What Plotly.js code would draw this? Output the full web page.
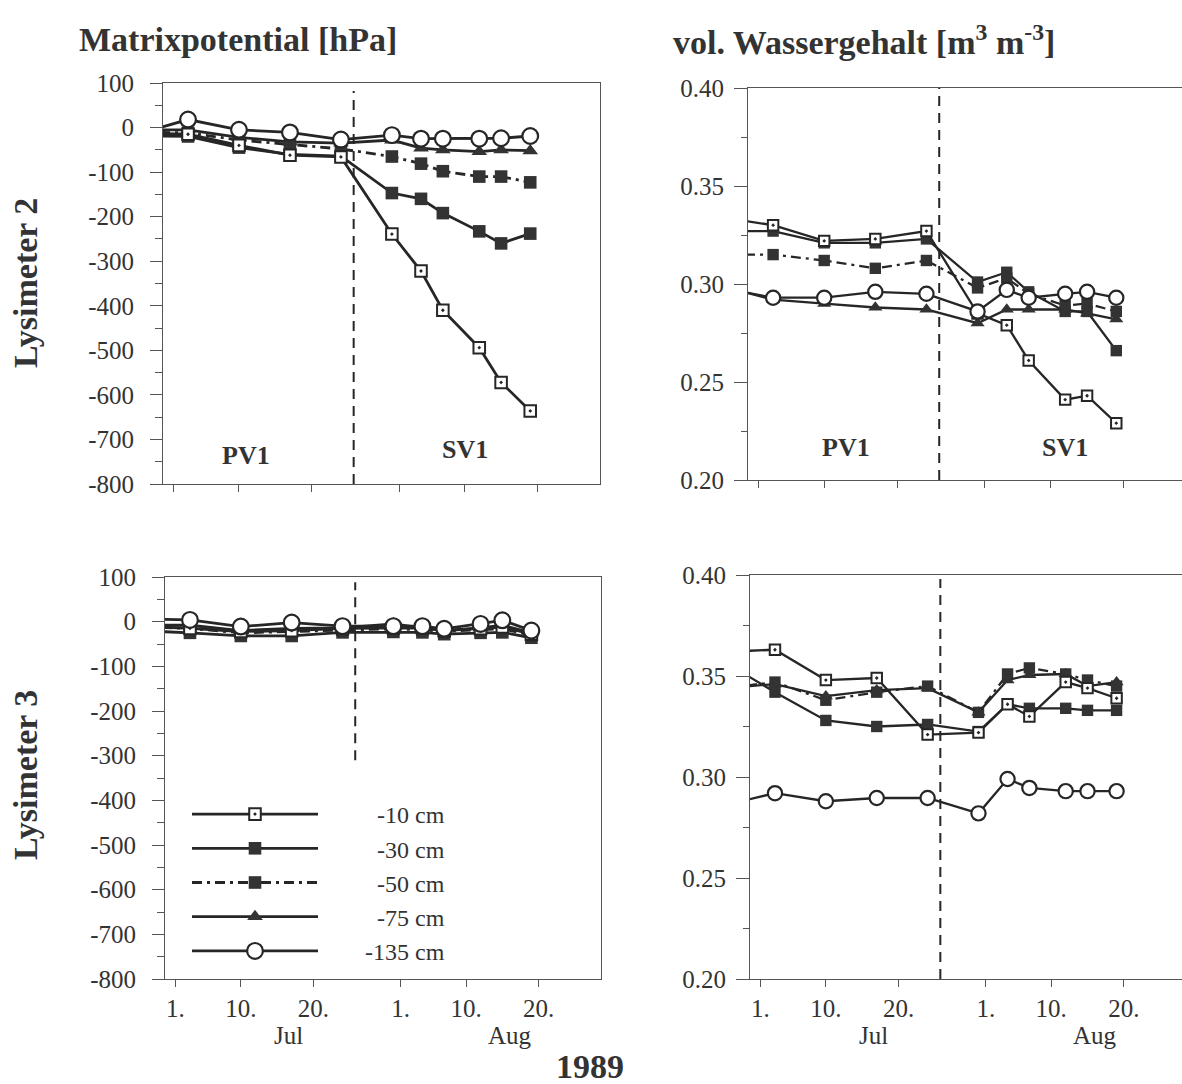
<!DOCTYPE html>
<html><head><meta charset="utf-8">
<script src="https://cdn.plot.ly/plotly-3.0.1.min.js"></script>
<style>html,body{margin:0;padding:0;background:#fff;overflow:hidden}</style>
</head><body><div id="chart" style="width:1182px;height:1084px"></div>
<script>
// ---- data ----
const dates = ['1989-06-26','1989-07-03','1989-07-10','1989-07-17','1989-07-24','1989-07-31','1989-08-04','1989-08-07','1989-08-12','1989-08-15','1989-08-19'];
const depths = ['-10 cm','-30 cm','-50 cm','-75 cm','-135 cm'];

// Lysimeter 2 – Matrixpotential [hPa]
const lys2_psi_10  = [-12, -15, -40, -62, -66, -239, -322, -410, -494, -572, -636];
const lys2_psi_30  = [-18, -20, -45, -60, -64, -147, -160, -192, -233, -260, -238];
const lys2_psi_50  = [-10, -12, -28, -38, -48, -65, -81, -98, -110, -110, -123];
const lys2_psi_75  = [-5, -5, -22, -32, -35, -28, -46, -50, -54, -50, -52];
const lys2_psi_135 = [-15, 18, -5, -11, -27, -17, -25, -25, -25, -24, -19];

// Lysimeter 2 – vol. Wassergehalt [m3 m-3]
const lys2_theta_10  = [0.334, 0.330, 0.322, 0.323, 0.327, 0.285, 0.279, 0.261, 0.241, 0.243, 0.229];
const lys2_theta_30  = [0.327, 0.327, 0.321, 0.321, 0.323, 0.301, 0.306, 0.296, 0.286, 0.286, 0.266];
const lys2_theta_50  = [0.315, 0.315, 0.312, 0.308, 0.312, 0.298, 0.303, 0.295, 0.289, 0.290, 0.286];
const lys2_theta_75  = [0.299, 0.292, 0.290, 0.288, 0.287, 0.280, 0.287, 0.287, 0.287, 0.285, 0.282];
const lys2_theta_135 = [0.298, 0.293, 0.293, 0.296, 0.295, 0.286, 0.297, 0.293, 0.295, 0.296, 0.293];

// Lysimeter 3 – Matrixpotential [hPa]
const lys3_psi_10  = [-10, -15, -22, -20, -15, -14, -14, -20, -16, -12, -28];
const lys3_psi_30  = [-20, -25, -32, -32, -24, -23, -24, -28, -25, -24, -36];
const lys3_psi_50  = [-12, -15, -25, -22, -18, -16, -18, -22, -18, -16, -30];
const lys3_psi_75  = [-8, -8, -20, -15, -14, -5, -14, -20, -14, -8, -25];
const lys3_psi_135 = [6, 4, -11, -2, -10, -10, -10, -16, -5, 3, -20];

// Lysimeter 3 – vol. Wassergehalt [m3 m-3]
const lys3_theta_10  = [0.362, 0.363, 0.348, 0.349, 0.321, 0.322, 0.336, 0.330, 0.347, 0.344, 0.339];
const lys3_theta_30  = [0.357, 0.342, 0.328, 0.325, 0.326, 0.3225, 0.336, 0.334, 0.334, 0.333, 0.333];
const lys3_theta_50  = [0.344, 0.347, 0.338, 0.342, 0.345, 0.332, 0.351, 0.354, 0.351, 0.348, 0.345];
const lys3_theta_75  = [0.344, 0.346, 0.340, 0.343, 0.344, 0.332, 0.348, 0.3505, 0.351, 0.345, 0.347];
const lys3_theta_135 = [0.286, 0.292, 0.288, 0.2896, 0.2896, 0.282, 0.299, 0.2946, 0.293, 0.293, 0.293];

// tick labels
const xTickVals = ['1989-07-01','1989-07-10','1989-07-20','1989-08-01','1989-08-10','1989-08-20'];
const xTickText = ['1.','10.','20.','1.','10.','20.'];
const psiTickVals = [100, 0, -100, -200, -300, -400, -500, -600, -700, -800];
const psiTickText = ['100','0','-100','-200','-300','-400','-500','-600','-700','-800'];
const psiMinorVals = [50, -50, -150, -250, -350, -450, -550, -650, -750];
const thetaTickVals = [0.20, 0.25, 0.30, 0.35, 0.40];
const thetaTickText = ['0.20','0.25','0.30','0.35','0.40'];
const thetaMinorVals = [0.225, 0.275, 0.325, 0.375];
const monthLabels = ['Jul', 'Aug'];
const monthPos = ['1989-07-16 12:00', '1989-08-16'];
const phaseLabels = ['PV1', 'SV1'];
const switchDate = '1989-07-25 18:00';

// ---- styles ----
const FAM = 'Liberation Serif';
const INK = '#262626';
const AX = '#555';
const TXT = '#333';
const font = (size) => ({family: FAM, size: size, color: TXT});
const styles = {
  '-10 cm':  {symbol: 'square-dot', color: '#ffffff', lw: 2, lc: INK, size: 11, dash: 'solid', rank: 1},
  '-30 cm':  {symbol: 'square', color: '#333333', lw: 0, lc: INK, size: 12, dash: 'solid', rank: 2},
  '-50 cm':  {symbol: 'square', color: '#333333', lw: 0, lc: INK, size: 12, dash: '10px,5px,3px,5px', rank: 3},
  '-75 cm':  {symbol: 'triangle-up', color: '#333333', lw: 0, lc: INK, size: 13, dash: 'solid', rank: 4},
  '-135 cm': {symbol: 'circle', color: '#ffffff', lw: 2.2, lc: INK, size: 15, dash: 'solid', rank: 5}
};

const panels = [
  {xa: 'x', ya: 'y', series: [lys2_psi_10, lys2_psi_30, lys2_psi_50, lys2_psi_75, lys2_psi_135], lw: 2.8, scale: 1.05, legend: false},
  {xa: 'x2', ya: 'y2', series: [lys2_theta_10, lys2_theta_30, lys2_theta_50, lys2_theta_75, lys2_theta_135], lw: 2.3, scale: 0.95, legend: false},
  {xa: 'x3', ya: 'y3', series: [lys3_psi_10, lys3_psi_30, lys3_psi_50, lys3_psi_75, lys3_psi_135], lw: 2.8, scale: 1.05, legend: true},
  {xa: 'x4', ya: 'y4', series: [lys3_theta_10, lys3_theta_30, lys3_theta_50, lys3_theta_75, lys3_theta_135], lw: 2.3, scale: 0.95, legend: false}
];
// draw order: -30, -50, -75, -10, -135
const drawOrder = [1, 2, 3, 0, 4];
const NB = '\u00a0';

const traces = [];
panels.forEach(p => {
  drawOrder.forEach(i => {
    const name = depths[i];
    const s = styles[name];
    traces.push({
      type: 'scatter', mode: 'lines+markers',
      x: dates, y: p.series[i], xaxis: p.xa, yaxis: p.ya,
      name: NB.repeat(7) + (name.length < 7 ? NB.repeat(2) : '') + name,
      showlegend: p.legend, legendrank: s.rank,
      line: {color: INK, width: p.lw, dash: s.dash},
      marker: {symbol: s.symbol, color: s.color, size: s.size * p.scale, line: {color: s.lc, width: s.lw}},
      cliponaxis: true
    });
  });
});

function xAxis(domain, range, anchor, labels) {
  return {domain, range, type: 'date', anchor, tickmode: 'array', tickvals: xTickVals, ticktext: xTickText,
    showticklabels: labels, ticks: 'outside', ticklen: 7, tickwidth: 1, tickcolor: AX,
    showline: true, linecolor: AX, linewidth: 1, mirror: true, showgrid: false, zeroline: false,
    tickfont: font(25), fixedrange: true};
}
function yPsi(domain, anchor) {
  return {domain, range: [-800, 100], anchor, tickmode: 'array', tickvals: psiTickVals, ticktext: psiTickText,
    ticks: 'outside', ticklen: 12, tickwidth: 1, tickcolor: AX,
    minor: {tickmode: 'array', tickvals: psiMinorVals, ticks: 'outside', ticklen: 7, tickcolor: AX, showgrid: false},
    showline: true, linecolor: AX, linewidth: 1, mirror: true, showgrid: false, zeroline: false,
    tickfont: font(25), ticklabelstandoff: 11, fixedrange: true};
}
function yTheta(domain, anchor) {
  return {domain, range: [0.20, 0.40], anchor, tickmode: 'array', tickvals: thetaTickVals, ticktext: thetaTickText,
    ticks: 'outside', ticklen: 13, tickwidth: 1, tickcolor: AX,
    minor: {tickmode: 'array', tickvals: thetaMinorVals, ticks: 'outside', ticklen: 6, tickcolor: AX, showgrid: false},
    showline: true, linecolor: AX, linewidth: 1, mirror: false, showgrid: false, zeroline: false,
    tickfont: font(25), ticklabelstandoff: 5, fixedrange: true};
}

const H = 1084, W = 1182;
const py = v => 1 - v / H;
const px = v => v / W;
const leftRange = ['1989-06-29 13:30', '1989-08-28 14:00'];
const rightRange = ['1989-06-29 13:30', '1989-08-28 00:00'];

function note(text, x, y, size, extra) {
  return Object.assign({text, xref: 'paper', yref: 'paper', x, y, xanchor: 'center', yanchor: 'middle',
    showarrow: false, font: font(size)}, extra || {});
}

const layout = {
  width: W, height: H, margin: {l: 0, r: 0, t: 0, b: 0},
  paper_bgcolor: '#fff', plot_bgcolor: '#fff', showlegend: true,
  font: {family: FAM, color: TXT},
  xaxis: xAxis([px(163), px(600)], leftRange, 'y', false),
  yaxis: yPsi([py(484), py(83)], 'x'),
  xaxis2: xAxis([px(748), 1], rightRange, 'y2', false),
  yaxis2: yTheta([py(480), py(88)], 'x2'),
  xaxis3: xAxis([px(165), px(601)], leftRange, 'y3', true),
  yaxis3: yPsi([py(979), py(577)], 'x3'),
  xaxis4: xAxis([px(750), 1], rightRange, 'y4', true),
  yaxis4: yTheta([py(979), py(575)], 'x4'),
  legend: {x: px(187), y: py(792), xanchor: 'left', yanchor: 'top', bgcolor: 'rgba(0,0,0,0)',
    font: font(24), itemwidth: 126, traceorder: 'normal'},
  shapes: [
    {type: 'line', xref: 'x', yref: 'y domain', x0: switchDate, x1: switchDate, y0: 0, y1: 0.98, line: {color: INK, width: 2, dash: '10px,7px'}},
    {type: 'line', xref: 'x2', yref: 'y2 domain', x0: switchDate, x1: switchDate, y0: 0, y1: 1, line: {color: INK, width: 2, dash: '10px,7px'}},
    {type: 'line', xref: 'x3', yref: 'y3', x0: switchDate, x1: switchDate, y0: -310, y1: 88, line: {color: INK, width: 2, dash: '10px,7px'}},
    {type: 'line', xref: 'x4', yref: 'y4 domain', x0: switchDate, x1: switchDate, y0: 0, y1: 0.99, line: {color: INK, width: 2, dash: '10px,7px'}}
  ],
  annotations: [
    note('<b>Matrixpotential [hPa]</b>', px(238), py(40), 34),
    note('<b>vol. Wassergehalt [m<sup>3</sup> m<sup>-3</sup>]</b>', px(864), py(40), 34),
    note('<b>Lysimeter 2</b>', px(25), py(283), 34, {textangle: -90}),
    note('<b>Lysimeter 3</b>', px(25), py(775), 34, {textangle: -90}),
    note('<b>1989</b>', px(590), py(1066), 34),
    note('<b>' + phaseLabels[0] + '</b>', '1989-07-11', -735, 26, {xref: 'x', yref: 'y'}),
    note('<b>' + phaseLabels[1] + '</b>', '1989-08-10', -722, 26, {xref: 'x', yref: 'y'}),
    note('<b>' + phaseLabels[0] + '</b>', '1989-07-13', 0.2165, 26, {xref: 'x2', yref: 'y2'}),
    note('<b>' + phaseLabels[1] + '</b>', '1989-08-12', 0.2165, 26, {xref: 'x2', yref: 'y2'}),
    note(monthLabels[0], monthPos[0], py(1035), 25, {xref: 'x3'}),
    note(monthLabels[1], monthPos[1], py(1035), 25, {xref: 'x3'}),
    note(monthLabels[0], monthPos[0], py(1035), 25, {xref: 'x4'}),
    note(monthLabels[1], monthPos[1], py(1035), 25, {xref: 'x4'})
  ]
};

Plotly.newPlot('chart', traces, layout, {staticPlot: true, displayModeBar: false});
</script></body></html>
